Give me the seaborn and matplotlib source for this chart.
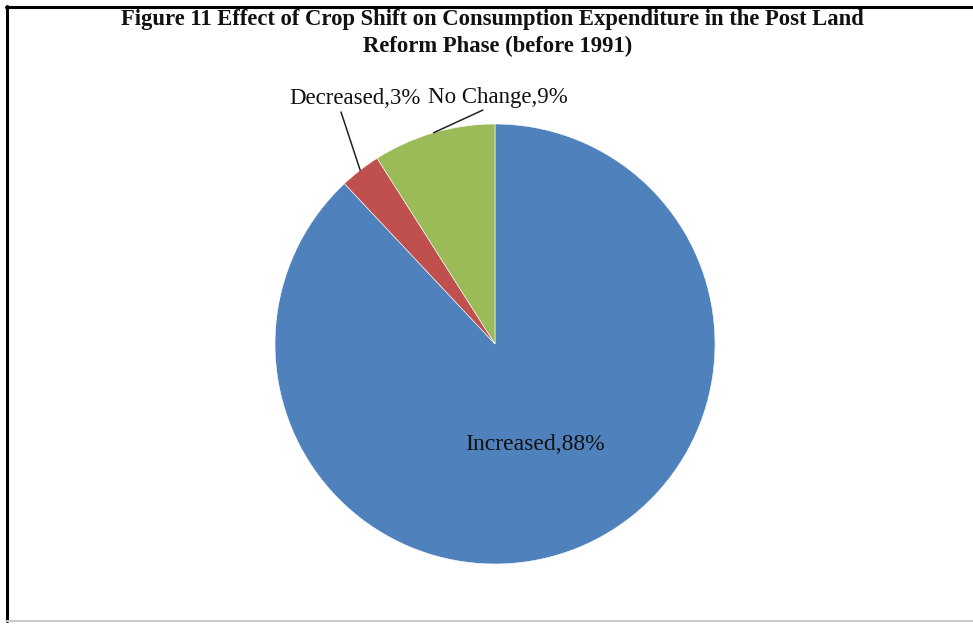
import matplotlib
matplotlib.use("Agg")
import matplotlib.pyplot as plt
import numpy as np
import seaborn as sns
from matplotlib.lines import Line2D

# Survey responses: effect of crop shift on consumption expenditure
categories = ["Increased", "Decreased", "No Change"]
shares = [88, 3, 9]
colors = ["#4F81BD", "#C0504D", "#9BBB59"]
title_lines = ["Figure 11 Effect of Crop Shift on Consumption Expenditure in the Post Land",
               "Reform Phase (before 1991)"]

sns.set_theme(style="white")
plt.rcParams["font.family"] = ["Liberation Serif", "DejaVu Serif"]

W, H = 973, 625
fig = plt.figure(figsize=(W / 100, H / 100), dpi=100)
fig.patch.set_facecolor("white")
ax = fig.add_axes([0, 0, 1, 1])

cx, cy, r = 495, H - 344, 220
wedges, _ = ax.pie(shares, colors=colors, startangle=90, counterclock=False,
                   center=(cx, cy), radius=r,
                   wedgeprops=dict(edgecolor="white", linewidth=0.4))
ax.set_xlim(0, W)
ax.set_ylim(0, H)
ax.set_aspect("equal")
ax.set_axis_off()

labels = [f"{c},{v}%" for c, v in zip(categories, shares)]

# Inside label for the large slice
ax.text(535, H - 444, labels[0], fontsize=17, ha="center", va="center", color="#111111")

# Outside labels with leader lines to the slice edge
outside = {1: ((355, H - 98), (341, H - 112)),
           2: ((498, H - 98), (483, H - 110))}
for i, ((tx, ty), (lx, ly)) in outside.items():
    ax.text(tx, ty, labels[i], fontsize=16.5, ha="center", va="center", color="#111111")
    w = wedges[i]
    mid = np.deg2rad((w.theta1 + w.theta2) / 2)
    ex, ey = cx + r * np.cos(mid), cy + r * np.sin(mid)
    ax.plot([lx, ex], [ly, ey], color="#222222", lw=1.1)

# Title
fig.text(492 / W, 1 - 20 / H, title_lines[0], ha="center", va="center",
         fontsize=16.3, fontweight="bold", color="#111111")
fig.text(498 / W, 1 - 46 / H, title_lines[1], ha="center", va="center",
         fontsize=16.3, fontweight="bold", color="#111111")

# Chart frame
fig.add_artist(Line2D([6 / W, 1], [1 - 7 / H, 1 - 7 / H], color="black", lw=2.2,
                      transform=fig.transFigure))
fig.add_artist(Line2D([7 / W, 7 / W], [1 - 6 / H, 1 - 621 / H], color="black", lw=2.2,
                      transform=fig.transFigure))
fig.add_artist(Line2D([7 / W, 1], [1 - 621 / H, 1 - 621 / H], color="#cccccc", lw=1.5,
                      transform=fig.transFigure))

fig.savefig("out.png", dpi=100, facecolor="white")
